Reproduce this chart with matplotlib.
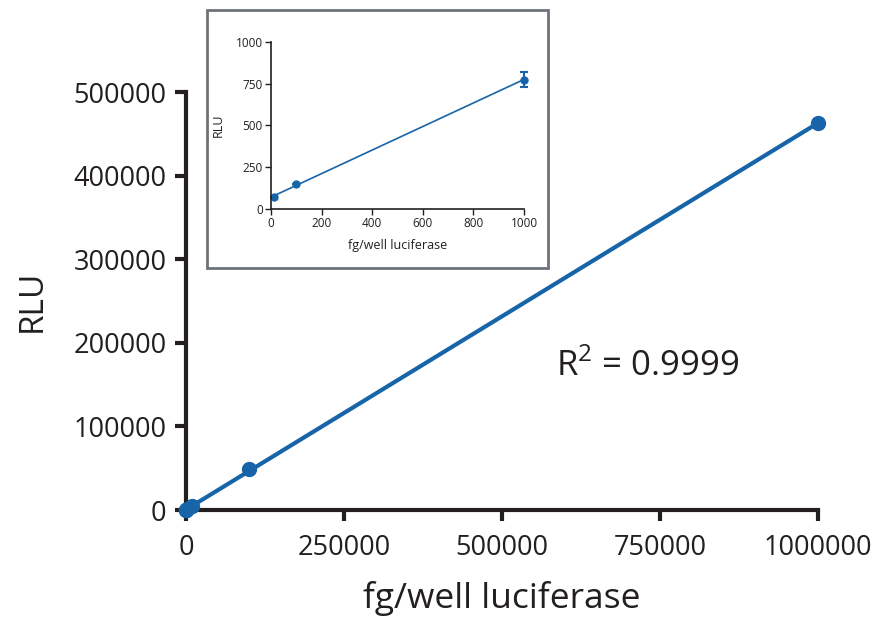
import numpy as np
import matplotlib
matplotlib.use("Agg")
import matplotlib.pyplot as plt
from matplotlib.patches import Rectangle

# main curve data (fg/well vs RLU)
fg_main = [0, 10, 100, 1000, 10000, 100000, 1000000]
rlu_main = [0, 70, 150, 775, 4800, 49000, 463000]

# inset (low range) data
fg_low = [10, 100, 1000]
rlu_low = [70, 150, 775]
rlu_low_err = [0, 0, 45]

r2_label = r'R$^{\mathregular{2}}$ = 0.9999'

blue = "#1764a8"
ink = "#231f20"
plt.rcParams['font.family'] = ['Open Sans', 'DejaVu Sans']

fig = plt.figure(figsize=(8.75, 6.19), dpi=100)

# main axes
ax = fig.add_axes([0.2126, 0.176, 0.7224, 0.675])
fit = np.polyfit(fg_main, rlu_main, 1)
xs = np.array([0, 1000000])
ax.plot(xs, np.polyval(fit, xs), color=blue, lw=3, zorder=2)
ax.plot(fg_main, rlu_main, 'o', color=blue, ms=10, clip_on=False, zorder=3)
ax.set_xlim(0, 1000000)
ax.set_ylim(0, 500000)
ax.set_xticks([0, 250000, 500000, 750000, 1000000])
ax.set_yticks([0, 100000, 200000, 300000, 400000, 500000])
ax.set_xticklabels(['0', '250000', '500000', '750000', '1000000'])
ax.set_yticklabels(['0', '100000', '200000', '300000', '400000', '500000'])
for s in ['top', 'right']:
    ax.spines[s].set_visible(False)
for s in ['left', 'bottom']:
    ax.spines[s].set_linewidth(3)
    ax.spines[s].set_color(ink)
ax.tick_params(axis='y', width=3, length=8, labelsize=19.5, colors=ink, pad=6)
ax.tick_params(axis='x', width=3, length=8, labelsize=19.5, colors=ink, pad=9)
ax.set_xlabel('fg/well luciferase', fontsize=25.5, color=ink, labelpad=14)
ax.set_ylabel('RLU', fontsize=24, color=ink, labelpad=18)
ax.text(0.585, 0.32, r2_label, transform=ax.transAxes, fontsize=25, color=ink)

# inset frame
fig.patches.append(Rectangle((0.2366, 0.567), 0.3897, 0.417, transform=fig.transFigure,
                             fill=True, facecolor='white', edgecolor='#6d737a', lw=2, zorder=5))

# inset axes
ins = fig.add_axes([0.3097, 0.6624, 0.2892, 0.2698])
ins.set_zorder(6)
fit_low = np.polyfit(fg_low, rlu_low, 1)
xl = np.array([10, 1000])
ins.plot(xl, np.polyval(fit_low, xl), color=blue, lw=1.2)
ins.errorbar(fg_low, rlu_low, yerr=rlu_low_err, fmt='o', color=blue, ms=5,
             capsize=3, elinewidth=1.5, capthick=1.5, clip_on=False)
ins.set_xlim(0, 1000)
ins.set_ylim(0, 1000)
ins.set_xticks([0, 200, 400, 600, 800, 1000])
ins.set_yticks([0, 250, 500, 750, 1000])
for s in ['top', 'right']:
    ins.spines[s].set_visible(False)
for s in ['left', 'bottom']:
    ins.spines[s].set_linewidth(1.2)
    ins.spines[s].set_color(ink)
ins.tick_params(width=1, length=4, labelsize=8.5, colors=ink, pad=2)
ins.set_xlabel('fg/well luciferase', fontsize=9, color=ink, labelpad=6)
ins.set_ylabel('RLU', fontsize=9, color=ink, labelpad=8)

fig.savefig('out.png', dpi=100)
